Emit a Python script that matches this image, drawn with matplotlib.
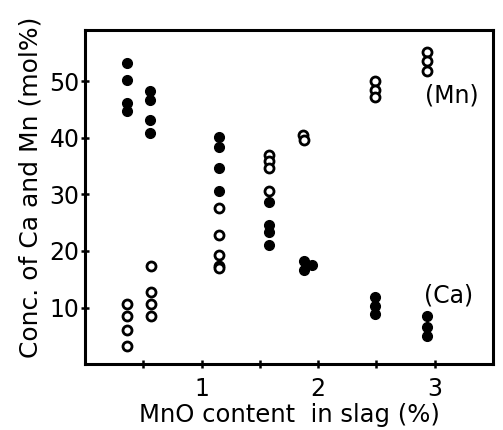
import matplotlib.pyplot as plt

# MnO content (%) and concentration (mol%)
ca_x = [0.36, 0.36, 0.36, 0.36, 0.56, 0.56, 0.56, 0.56,
        1.15, 1.15, 1.15, 1.15,
        1.58, 1.58, 1.58, 1.58,
        1.88, 1.95, 1.88,
        2.49, 2.49, 2.49,
        2.93, 2.93, 2.93]
ca_y = [53.2, 50.1, 46.2, 44.8, 48.3, 46.6, 43.2, 40.9,
        40.2, 38.3, 34.6, 30.5,
        28.7, 24.5, 23.3, 21.1,
        18.3, 17.5, 16.7,
        11.8, 10.3, 8.8,
        8.5, 6.6, 4.9]

mn_x = [0.36, 0.36, 0.36, 0.36, 0.57, 0.57, 0.57, 0.57,
        1.15, 1.15, 1.15, 1.15, 1.15,
        1.58, 1.58, 1.58, 1.58,
        1.87, 1.88,
        2.49, 2.49, 2.49,
        2.93, 2.93, 2.93]
mn_y = [10.7, 8.5, 6.0, 3.3, 17.4, 12.7, 10.6, 8.5,
        27.6, 22.9, 19.2, 17.4, 17.0,
        37.0, 35.8, 34.6, 30.5,
        40.5, 39.6,
        50.0, 48.5, 47.1,
        55.1, 53.6, 51.8]

x_ticks = [0.5, 1, 1.5, 2, 2.5, 3]
x_labels = ['', '1', '', '2', '', '3']
y_ticks = [10, 20, 30, 40, 50]

fig = plt.figure(figsize=(5.03, 4.30), dpi=100)
ax = fig.add_axes([0.169, 0.153, 0.811, 0.777])

ax.plot(ca_x, ca_y, 'o', color='black', markersize=7, linestyle='none')
ax.plot(mn_x, mn_y, 'o', markerfacecolor='white', markeredgecolor='black',
        markeredgewidth=2.0, markersize=6.5, linestyle='none')

ax.text(2.92, 47.4, '(Mn)', fontsize=17, va='center', ha='left')
ax.text(2.91, 12.1, '(Ca)', fontsize=17, va='center', ha='left')

ax.set_xlim(0, 3.5)
ax.set_ylim(0, 59)
ax.set_xticks(x_ticks)
ax.set_xticklabels(x_labels)
ax.set_yticks(y_ticks)
ax.tick_params(direction='inout', length=6, width=1.8, labelsize=17)
ax.tick_params(axis='x', pad=6)
ax.tick_params(axis='y', pad=1)
for s in ax.spines.values():
    s.set_linewidth(2.2)

ax.set_xlabel('MnO content  in slag (%)', fontsize=17.5, labelpad=2)
ax.set_ylabel('Conc. of Ca and Mn (mol%)', fontsize=18, labelpad=0)
ax.yaxis.set_label_coords(-0.103, 0.53)

plt.savefig('out.png', dpi=100)
plt.close()
